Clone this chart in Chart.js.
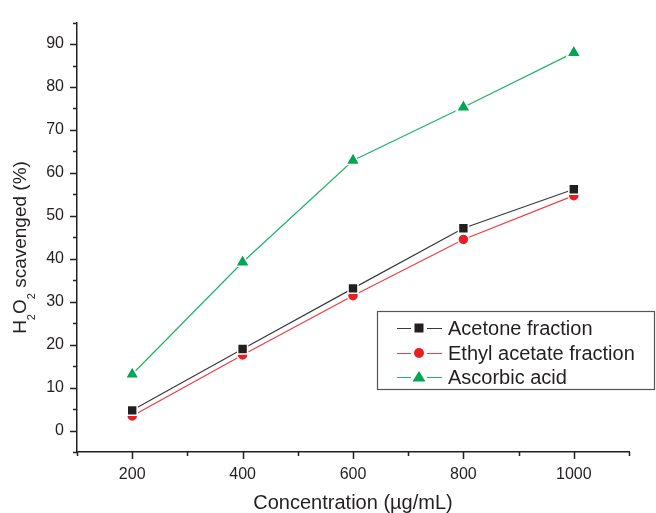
<!DOCTYPE html>
<html>
<head>
<meta charset="utf-8">
<script src="https://cdn.jsdelivr.net/npm/chart.js@4/dist/chart.umd.min.js"></script>
<style>
  body { margin: 0; background: #fff; }
  canvas { display: block; }
</style>
</head>
<body>
<canvas id="h2o2Chart" width="656" height="513"></canvas>
<script>
var concentrations = [200, 400, 600, 800, 1000];
var acetone = [4.7, 19.0, 33.1, 47.1, 56.2];
var ethylAcetate = [3.4, 17.6, 31.4, 44.5, 54.7];
var ascorbic = [13.1, 39.2, 62.9, 75.3, 88.0];
var seriesNames = ['Acetone fraction', 'Ethyl acetate fraction', 'Ascorbic acid'];

var ink = '#231f20';
var fontFamily = '"Liberation Sans", Arial, Helvetica, sans-serif';

function points(values) {
  return concentrations.map(function (c, i) { return { x: c, y: values[i] }; });
}

// outward ticks, long for labelled values and short in between
var axisTicks = {
  id: 'axisTicks',
  afterDraw: function (chart) {
    var ctx = chart.ctx;
    var xs = chart.scales.x, ys = chart.scales.y;
    ctx.save();
    ctx.strokeStyle = ink;
    ctx.lineWidth = 1.5;
    xs.ticks.forEach(function (t) {
      var px = Math.round(xs.getPixelForValue(t.value)) + 0.5;
      var len = t.value % 200 === 0 ? 7 : 4;
      ctx.beginPath();
      ctx.moveTo(px, xs.top);
      ctx.lineTo(px, xs.top + len);
      ctx.stroke();
    });
    ys.ticks.forEach(function (t) {
      var py = Math.round(ys.getPixelForValue(t.value)) + 0.5;
      var len = t.value % 10 === 0 ? 7 : 4;
      ctx.beginPath();
      ctx.moveTo(ys.right, py);
      ctx.lineTo(ys.right - len, py);
      ctx.stroke();
    });
    ctx.restore();
  }
};

// rotated y title with subscripts
var yTitle = {
  id: 'yTitle',
  afterDraw: function (chart) {
    var ctx = chart.ctx;
    var parts = [
      { t: 'H', size: 19, dy: 0 },
      { t: '2', size: 11, dy: 11 },
      { t: 'O', size: 19, dy: 0 },
      { t: '2', size: 11, dy: 11 },
      { t: ' scavenged (%)', size: 19, dy: 0 }
    ];
    ctx.save();
    var total = 0;
    parts.forEach(function (p) {
      ctx.font = p.size + 'px ' + fontFamily;
      p.w = ctx.measureText(p.t).width;
      total += p.w;
    });
    ctx.translate(20.5, 247.5);
    ctx.rotate(-Math.PI / 2);
    ctx.fillStyle = ink;
    ctx.textBaseline = 'middle';
    var x = -total / 2;
    parts.forEach(function (p) {
      ctx.font = p.size + 'px ' + fontFamily;
      ctx.fillText(p.t, x, p.dy);
      x += p.w;
    });
    ctx.restore();
  }
};

function drawMarker(ctx, style, x, y, color) {
  ctx.fillStyle = color;
  ctx.beginPath();
  if (style === 'rect') {
    ctx.rect(x - 4.5, y - 4.5, 9, 9);
  } else if (style === 'circle') {
    ctx.arc(x, y, 5, 0, Math.PI * 2);
  } else {
    ctx.moveTo(x, y - 6);
    ctx.lineTo(x + 6.5, y + 4.5);
    ctx.lineTo(x - 6.5, y + 4.5);
    ctx.closePath();
  }
  ctx.fill();
}

// boxed legend in the lower right
var boxLegend = {
  id: 'boxLegend',
  afterDraw: function (chart) {
    var ctx = chart.ctx;
    ctx.save();
    ctx.fillStyle = '#fff';
    ctx.fillRect(377, 311, 278, 79);
    ctx.strokeStyle = '#555';
    ctx.lineWidth = 1.2;
    ctx.strokeRect(377.5, 311.5, 277, 78);
    var rows = [328, 353, 377];
    ctx.font = '20px ' + fontFamily;
    ctx.textBaseline = 'middle';
    chart.data.datasets.forEach(function (ds, i) {
      var y = rows[i];
      ctx.strokeStyle = ds.borderColor;
      ctx.lineWidth = 1.2;
      ctx.beginPath();
      ctx.moveTo(397, y + 0.5);
      ctx.lineTo(411, y + 0.5);
      ctx.moveTo(427, y + 0.5);
      ctx.lineTo(442, y + 0.5);
      ctx.stroke();
      drawMarker(ctx, ds.pointStyle, 419, y, ds.pointBackgroundColor);
      ctx.fillStyle = ink;
      ctx.fillText(ds.label, 448, y + 1);
    });
    ctx.restore();
  }
};

var ctx = document.getElementById('h2o2Chart');
new Chart(ctx, {
  type: 'line',
  data: {
    datasets: [
      {
        label: seriesNames[0],
        data: points(acetone),
        borderColor: '#3a3a3a',
        borderWidth: 1.2,
        pointStyle: 'rect',
        pointRadius: 7,
        pointBackgroundColor: ink,
        pointBorderColor: '#fff',
        pointBorderWidth: 1.5
      },
      {
        label: seriesNames[1],
        data: points(ethylAcetate),
        borderColor: '#ef3b44',
        borderWidth: 1.2,
        pointStyle: 'circle',
        pointRadius: 5.5,
        pointBackgroundColor: '#ed1c24',
        pointBorderColor: '#fff',
        pointBorderWidth: 1.5
      },
      {
        label: seriesNames[2],
        data: points(ascorbic),
        borderColor: '#1fb36a',
        borderWidth: 1.2,
        pointStyle: 'triangle',
        pointRadius: 8,
        pointBackgroundColor: '#00a651',
        pointBorderColor: '#fff',
        pointBorderWidth: 1.5
      }
    ]
  },
  options: {
    responsive: false,
    animation: false,
    layout: { padding: { left: 0, top: 16, right: 27, bottom: 0 } },
    plugins: {
      legend: { display: false },
      tooltip: { enabled: false }
    },
    scales: {
      x: {
        type: 'linear',
        min: 100,
        max: 1100,
        afterFit: function (scale) { scale.height = 61; },
        ticks: {
          stepSize: 100,
          autoSkip: false,
          maxRotation: 0,
          padding: 13,
          color: ink,
          font: { family: fontFamily, size: 16 },
          callback: function (v) { return v % 200 === 0 ? v : ''; }
        },
        grid: { display: true, drawOnChartArea: false, drawTicks: false },
        border: { display: true, color: ink, width: 1.5 },
        title: {
          display: true,
          text: 'Concentration (µg/mL)',
          color: ink,
          font: { family: fontFamily, size: 20, lineHeight: 1 },
          padding: { top: 0, bottom: 0 }
        }
      },
      y: {
        min: -5,
        max: 95,
        afterFit: function (scale) { scale.width = 77; },
        ticks: {
          stepSize: 5,
          autoSkip: false,
          padding: 13,
          color: ink,
          font: { family: fontFamily, size: 16 },
          callback: function (v) { return (v % 10 === 0 && v >= 0 && v <= 90) ? v : ''; }
        },
        grid: { display: true, drawOnChartArea: false, drawTicks: false },
        border: { display: true, color: ink, width: 1.5 }
      }
    }
  },
  plugins: [axisTicks, yTitle, boxLegend]
});
</script>
</body>
</html>
